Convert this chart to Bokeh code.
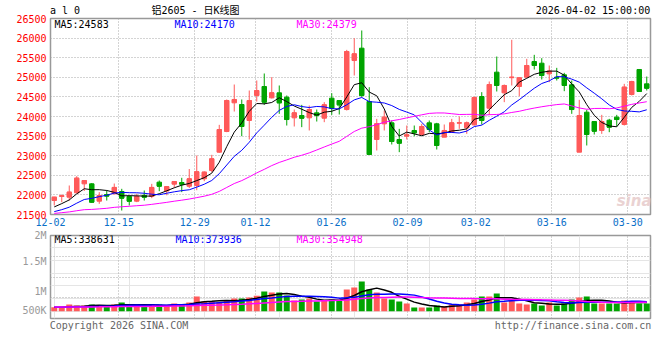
from bokeh.plotting import figure
from bokeh.layouts import column
from bokeh.models import Range1d, FixedTicker, Label, ColumnDataSource, Grid, LinearAxis
from bokeh.embed import file_html
from bokeh.resources import INLINE

# ---------------- data ----------------
dates = ["12-02", "12-03", "12-04", "12-05", "12-08", "12-09", "12-10", "12-11", "12-12",
         "12-15", "12-16", "12-17", "12-18", "12-19", "12-22", "12-23", "12-24", "12-25", "12-26",
         "12-29", "12-30", "12-31", "01-05", "01-06", "01-07", "01-08", "01-09",
         "01-12", "01-13", "01-14", "01-15", "01-16", "01-19", "01-20", "01-21", "01-22", "01-23",
         "01-26", "01-27", "01-28", "01-29", "01-30", "02-02", "02-03", "02-04", "02-05", "02-06",
         "02-09", "02-10", "02-11", "02-12", "02-13", "02-24", "02-25", "02-26", "02-27",
         "03-02", "03-03", "03-04", "03-05", "03-06", "03-09", "03-10", "03-11", "03-12", "03-13",
         "03-16", "03-17", "03-18", "03-19", "03-20", "03-23", "03-24", "03-25", "03-26", "03-27",
         "03-30", "03-31", "04-01", "04-02"]

tick_dates = ["12-02", "12-15", "12-29", "01-12", "01-26", "02-09", "03-02", "03-16", "03-30"]

opens = [21857, 21960, 21942, 22053, 22282, 22282, 21840, 22010, 22027, 22087,
         21960, 21840, 21990, 21960, 22325, 22100, 22274, 22316, 22220, 22240,
         22410, 22622, 23090, 23617, 24349, 24306, 23898, 24536, 24765, 24476,
         24604, 24493, 23966, 24025, 23966, 24093, 23957, 24468, 24408, 24178,
         25428, 25743, 24383, 23413, 23813, 23838, 23413, 23498, 23643, 23541,
         23838, 23813, 23473, 23600, 23830, 23711, 23787, 24510, 24212, 25131,
         24604, 24990, 24765, 25003, 25403, 25360, 25088, 25003, 25063, 24808,
         23090, 24110, 23872, 23643, 23906, 23983, 23796, 24561, 25199, 24833]
highs = [21950, 22010, 22240, 22478, 22367, 22300, 22070, 22112, 22290, 22155,
         21985, 22027, 22112, 22282, 22367, 22215, 22342, 22436, 22660, 23005,
         22600, 23022, 23787, 24434, 24816, 24434, 24663, 24918, 25097, 25003,
         24791, 24536, 24178, 24297, 24280, 24178, 24366, 24595, 24408, 25700,
         25998, 26194, 24748, 23940, 24153, 23898, 23685, 23770, 23770, 23813,
         23898, 23838, 23796, 23940, 24000, 23872, 24510, 24621, 24893, 25530,
         24816, 25957, 25003, 25471, 25573, 25488, 25301, 25241, 25114, 24918,
         24425, 24170, 23872, 24042, 23940, 24042, 24833, 24910, 25199, 25020]
lows = [21730, 21815, 21857, 22040, 22100, 21798, 21772, 21857, 22027, 21602,
        21730, 21815, 21857, 21917, 22095, 21990, 22190, 22070, 22175, 22120,
        22350, 22580, 23073, 23600, 24127, 23498, 23413, 24382, 24297, 24459,
        24068, 23770, 23745, 23728, 23643, 23872, 23855, 24042, 24051, 24153,
        25046, 24493, 23031, 23133, 23643, 23286, 23090, 23413, 23498, 23515,
        23600, 23158, 23473, 23583, 23685, 23557, 23770, 23796, 24042, 24638,
        24366, 24791, 24518, 24986, 25199, 24944, 24876, 24918, 24646, 24068,
        23090, 23261, 23541, 23557, 23600, 23745, 23770, 24536, 24638, 24663]
closes = [21942, 21980, 22070, 22427, 22367, 21815, 21985, 21970, 22190, 21917,
          21840, 21960, 21942, 22190, 22223, 22210, 22342, 22274, 22410, 22590,
          22580, 22920, 23668, 24408, 24434, 23745, 24408, 24663, 24366, 24604,
          24349, 23923, 24093, 23957, 24178, 24025, 24297, 24212, 24297, 25658,
          25598, 24536, 23031, 23813, 23983, 23362, 23320, 23532, 23583, 23745,
          23668, 23261, 23643, 23838, 23840, 23838, 24485, 23898, 24816, 24791,
          24791, 25003, 24986, 25301, 25301, 25046, 25156, 24980, 24791, 24178,
          24025, 23541, 23626, 23872, 23728, 23923, 24748, 24893, 24638, 24723]
volumes = [157000, 131000, 262000, 223000, 223000, 262000, 183000, 223000, 262000, 341000,
           262000, 197000, 197000, 262000, 262000, 197000, 301000, 262000, 341000, 576000,
           380000, 380000, 354000, 419000, 498000, 498000, 537000, 603000, 773000, 734000,
           734000, 616000, 419000, 459000, 498000, 380000, 419000, 459000, 419000, 852000,
           930000, 1166000, 852000, 734000, 498000, 459000, 380000, 301000, 144000, 144000,
           144000, 223000, 183000, 262000, 262000, 341000, 459000, 576000, 576000, 694000,
           341000, 459000, 301000, 262000, 301000, 223000, 341000, 223000, 301000, 459000,
           537000, 576000, 301000, 301000, 301000, 301000, 419000, 380000, 301000, 301000]

# closes / volumes of the 29 sessions before the window (needed for the moving averages)
prior_closes = [21420, 21480, 21530, 21560, 21610, 21580, 21520, 21470, 21450, 21490,
                21530, 21560, 21520, 21470, 21430, 21460, 21500, 21530, 21490, 21500,
                21480, 21440, 21400, 21430, 21515, 21560, 21600, 21650, 21716]
prior_volumes = [190000, 175000, 160000, 182000, 170000, 155000, 168000, 150000, 162000, 178000,
                 165000, 148000, 172000, 158000, 166000, 152000, 170000, 160000, 145000, 168000,
                 155000, 162000, 150000, 171000, 158000, 149000, 163000, 152000, 160000]

price_ticks = [21500, 22000, 22500, 23000, 23500, 24000, 24500, 25000, 25500, 26000, 26500]
vol_labels = ["2M", "1.5M", "1M", "500K"]
ma_periods = [5, 10, 30]
ma_price_text = [24583, 24170, 24379]
ma_vol_text = [338631, 373936, 354948]
header_texts = ["a l 0", "铝2605 - 日K线图", "2026-04-02 15:00:00"]
footer_texts = ["Copyright 2026 SINA.COM", "http://finance.sina.com.cn"]

# ---------------- styles ----------------
RED = "#ff5a5a"
GREEN = "#00a400"
MA_COLORS = ["#000000", "#0000ff", "#ff00ff"]
GRID = "#a8a8a8"
MONO = "DejaVu Sans Mono"


def sma(prior, vals, n):
    allv = list(prior) + list(vals)
    off = len(prior)
    return [sum(allv[off + i - n + 1: off + i + 1]) / n for i in range(len(vals))]


def bare_axis(ax, color, standoff):
    ax.axis_line_color = None
    ax.major_tick_line_color = None
    ax.minor_tick_line_color = None
    ax.major_tick_out = 0
    ax.major_tick_in = 0
    ax.minor_tick_out = 0
    ax.minor_tick_in = 0
    ax.major_label_text_font = MONO
    ax.major_label_text_font_size = "10px"
    ax.major_label_text_color = color
    ax.major_label_standoff = standoff


n = len(dates)
xs = list(range(n))
cols = [RED if c >= o else GREEN for o, c in zip(opens, closes)]
src = ColumnDataSource(dict(
    x=xs, o=opens, h=highs, l=lows, c=closes, v=volumes,
    top=[max(o, c) for o, c in zip(opens, closes)],
    bottom=[min(o, c) for o, c in zip(opens, closes)],
    xl=[i - 0.3 for i in xs], xr=[i + 0.3 for i in xs],
    color=cols))

tick_idx = [dates.index(d) for d in tick_dates]
# sina spreads its date grid over n-1 intervals across the panel
tick_pos = [-0.5 + i * n / (n - 1) for i in tick_idx]

xrange = Range1d(-0.5, n - 0.5)


def mx(xp):
    return -0.5 + (xp - 50) / 7.5


def my(yp):
    return 21500 + (214 - yp) * 5000 / 196


# ---------------- price panel ----------------
p = figure(frame_width=600, frame_height=196, x_range=xrange, y_range=Range1d(21500, 26500),
           output_backend="svg", toolbar_location=None,
           min_border_left=50, min_border_right=10, min_border_top=18, min_border_bottom=14,
           background_fill_color="white", border_fill_color="white")
p.outline_line_color = "#999999"
p.outline_line_width = 1.5

p.xaxis.ticker = FixedTicker(ticks=tick_pos)
p.xaxis.major_label_overrides = {tp: d for tp, d in zip(tick_pos, tick_dates)}
p.yaxis.ticker = FixedTicker(ticks=price_ticks)
bare_axis(p.xaxis[0], "#0a6fc8", 3)
bare_axis(p.yaxis[0], "#ff0000", 4)
for g in (p.xgrid[0], p.ygrid[0]):
    g.grid_line_color = GRID
    g.grid_line_dash = "1 2"
    g.grid_line_width = 1

# header row (symbol, title, timestamp) as labels of an axis above the panel
head_pos = [mx(64.5), mx(195), mx(592.5)]
head_ax = LinearAxis(ticker=FixedTicker(ticks=head_pos),
                     major_label_overrides={hp: t for hp, t in zip(head_pos, header_texts)})
bare_axis(head_ax, "#000000", 3)
head_ax.major_label_text_font = "DejaVu Sans Mono, Noto Sans CJK SC"
p.add_layout(head_ax, "above")

p.segment(x0="x", y0="h", x1="x", y1="l", line_color="color", line_width=1, source=src)
p.vbar(x="x", width=0.6, top="top", bottom="bottom", fill_color="color",
       line_color="color", line_width=1, source=src)
p.segment(x0="xl", y0="c", x1="xr", y1="c", line_color="color", line_width=1, source=src)

for per, colr in zip(ma_periods, MA_COLORS):
    p.line(xs, sma(prior_closes, closes, per), line_color=colr, line_width=1)

for per, colr, val, xp in zip(ma_periods, MA_COLORS, ma_price_text, [54, 174, 296]):
    p.add_layout(Label(x=mx(xp), y=my(23.5), text=f"MA{per}:{val}", text_font=MONO,
                       text_font_size="10px", text_color=colr, text_baseline="middle"))
p.add_layout(Label(x=mx(651), y=my(200), text="sina", text_font="DejaVu Sans",
                   text_font_style="bold italic", text_font_size="15px", text_color="#ead2d2",
                   text_align="right", text_baseline="middle"))

# ---------------- volume panel ----------------
VLO, VHI = -287000, 2975000


def vy(yp):
    return VLO + (318 - yp) * (VHI - VLO) / 83


pv = figure(frame_width=600, frame_height=83, x_range=xrange, y_range=Range1d(VLO, VHI),
            x_axis_location=None, y_axis_location=None,
            output_backend="svg", toolbar_location=None,
            min_border_left=50, min_border_right=10, min_border_top=7, min_border_bottom=14,
            background_fill_color="white", border_fill_color="white")
pv.outline_line_color = "#999999"
pv.outline_line_width = 1.5
vgrid = [VLO + k * (VHI - VLO) / 4 for k in (1, 2, 3)]
pv.add_layout(Grid(dimension=0, ticker=FixedTicker(ticks=tick_pos), grid_line_color=GRID,
                   grid_line_dash="1 2"))
pv.add_layout(Grid(dimension=1, ticker=FixedTicker(ticks=vgrid), grid_line_color=GRID,
                   grid_line_dash="1 2"))

# volume scale labels (sina places them at fixed heights, not on the grid)
vlab_pos = [VHI, vy(260.5), vy(290.5), vy(310)]
vax = LinearAxis(ticker=FixedTicker(ticks=vlab_pos),
                 major_label_overrides={vp: t for vp, t in zip(vlab_pos, vol_labels)})
bare_axis(vax, "#999999", 4)
pv.add_layout(vax, "left")

# footer texts as labels of an axis below the panel
foot_pos = [mx(118.5), mx(572.5)]
fax = LinearAxis(ticker=FixedTicker(ticks=foot_pos),
                 major_label_overrides={fp: t for fp, t in zip(foot_pos, footer_texts)})
bare_axis(fax, "#666666", 1)
pv.add_layout(fax, "below")

pv.vbar(x="x", width=0.8, top="v", bottom=0, fill_color="color", line_color=None, source=src)
for per, colr in zip(ma_periods, MA_COLORS):
    pv.line(xs, sma(prior_volumes, volumes, per), line_color=colr, line_width=1.5)

for per, colr, val, xp in zip(ma_periods, MA_COLORS, ma_vol_text, [54, 175, 296]):
    pv.add_layout(Label(x=mx(xp), y=vy(238.5), text=f"MA{per}:{val}", text_font=MONO,
                        text_font_size="10px", text_color=colr, text_baseline="middle"))

layout = column(p, pv, spacing=0)
open("out.html", "w").write(file_html(layout, INLINE))
